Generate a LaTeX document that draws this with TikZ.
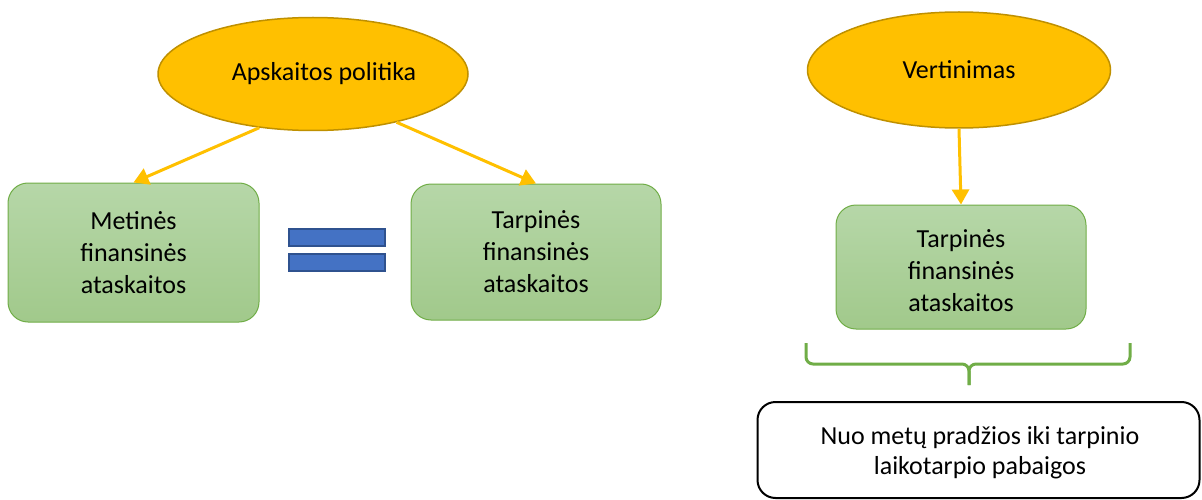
\documentclass[tikz,border=0pt]{standalone}
\usepackage{fontspec}
\setmainfont{Carlito}
\usetikzlibrary{shapes.geometric,arrows.meta}
\definecolor{gold}{HTML}{FFC000}
\definecolor{goldedge}{HTML}{BF9000}
\definecolor{greentop}{HTML}{B6D7A8}
\definecolor{greenbot}{HTML}{A1C98B}
\definecolor{greenedge}{HTML}{70AD47}
\definecolor{blueeq}{HTML}{4472C4}
\definecolor{blueedge}{HTML}{2F528F}
\begin{document}
\begin{tikzpicture}[x=1pt,y=-1pt,
  topic/.style={ellipse, draw=goldedge, line width=1.5pt, fill=gold,
    inner sep=0pt, font=\fontsize{26}{32}\selectfont},
  report/.style={draw=greenedge, line width=1pt, rounded corners=20pt,
    top color=greentop, bottom color=greenbot, inner sep=0pt,
    align=center, font=\fontsize{26}{32}\selectfont},
  caption/.style={inner sep=0pt, align=center, font=\fontsize{26}{32}\selectfont},
  link/.style={draw=gold, line width=3pt, -{Triangle[length=15pt,width=17pt]}},
  eqbar/.style={draw=blueedge, line width=1.2pt, fill=blueeq,
    minimum width=96pt, minimum height=17pt, inner sep=0pt},
  brace/.style={draw=greenedge, line width=3pt, rounded corners=7pt},
  period/.style={draw=black, line width=2pt, rounded corners=18pt, fill=white,
    minimum width=442pt, minimum height=96pt, inner sep=0pt}
]
\useasboundingbox (0,0) rectangle (1202,500);

% ellipses
\node[topic, minimum width=310pt, minimum height=113pt] (e1) at (313,74) {\hspace*{22pt}Apskaitos politika};
\node[topic, minimum width=303pt, minimum height=116pt] (e2) at (959,70) {Vertinimas};

% report boxes
\node[report, minimum width=251pt, minimum height=139pt] (b1) at (133.5,252.5)
  {Metinės\\finansinės\\ataskaitos};
\node[report, minimum width=250pt, minimum height=136pt] (b2) at (536,252)
  {Tarpinės\\finansinės\\ataskaitos};
\node[report, minimum width=250pt, minimum height=124pt] (b3) at (961,267) {};
\node[caption] (b3t) at (961,271) {Tarpinės\\finansinės\\ataskaitos};

% equals sign
\node[eqbar] (q1) at (337,237.5) {};
\node[eqbar] (q2) at (337,262.5) {};

% arrows
\draw[link] (e1.225) -- (b1.north);
\draw[link] (e1.-30) -- (b2.north);
\draw[link] (e2.south) -- (b3.north);

% brace under the interim box
\coordinate (bl) at (806,343);
\coordinate (br) at (1130,343);
\coordinate (bm) at (969,364);
\coordinate (bt) at (969,385);
\draw[brace] (bl) |- (bm) -- (bt);
\draw[brace] (br) |- (bm) -- (bt);

% period box
\node[period] (p) at (978.5,450) {};
\node[caption, font=\fontsize{26}{29.5}\selectfont] (pt) at (980,452.5)
  {Nuo metų pradžios iki tarpinio\\laikotarpio pabaigos};
\end{tikzpicture}
\end{document}
